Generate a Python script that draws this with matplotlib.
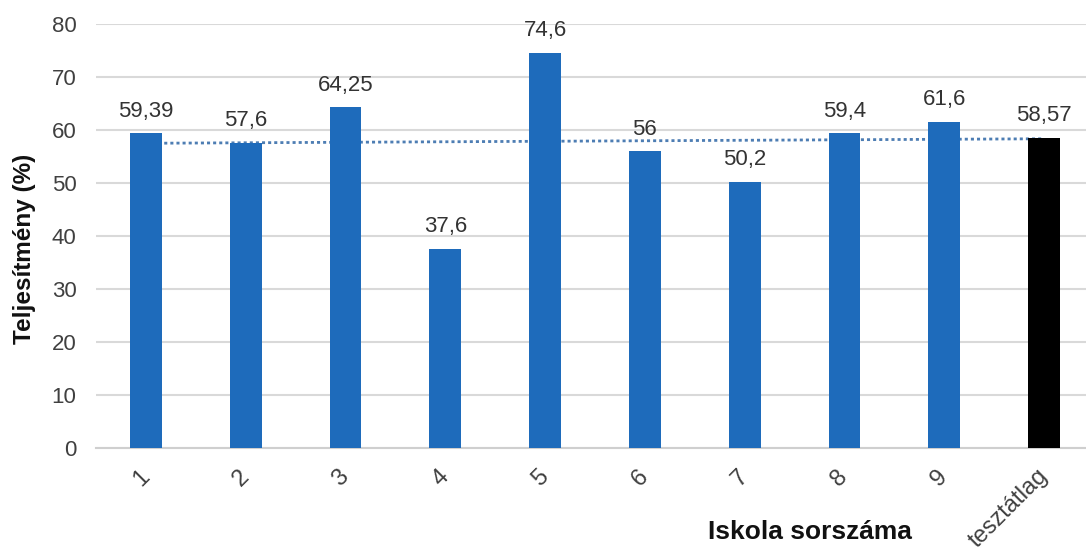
import numpy as np
import matplotlib
matplotlib.use("Agg")
import matplotlib.pyplot as plt

plt.rcParams['font.family'] = ['Liberation Sans', 'DejaVu Sans']

categories = ["1", "2", "3", "4", "5", "6", "7", "8", "9", "tesztátlag"]
values = [59.39, 57.6, 64.25, 37.6, 74.6, 56, 50.2, 59.4, 61.6, 58.57]
value_labels = ["59,39", "57,6", "64,25", "37,6", "74,6", "56", "50,2", "59,4", "61,6", "58,57"]
colors = ["#1e6bbb"] * 9 + ["#000000"]

W, H = 1086, 553
L, R, T, B = 96, 1094, 24, 448
fig = plt.figure(figsize=(W / 100, H / 100), dpi=100)
ax = fig.add_axes([L / W, 1 - B / H, (R - L) / W, (B - T) / H])

x = np.arange(len(categories))
ax.bar(x, values, width=0.32, color=colors, zorder=3)

for xi, v, lab in zip(x, values, value_labels):
    ax.text(xi, v + 2.2, lab, ha='center', va='bottom', fontsize=16, color='#333333', zorder=4)

# linear trendline of the series (behind the bars)
coef = np.polyfit(x, values, 1)
xl = np.array([0, len(categories) - 1])
ax.plot(xl, np.polyval(coef, xl), linestyle=(0, (1.1, 1.1)), color='#4d7db3', linewidth=2.0, zorder=2)

ax.set_xlim(-0.5, len(categories) - 0.5)
ax.set_ylim(0, 80)
ax.set_yticks(range(0, 81, 10))
ax.yaxis.grid(True, color='#d9d9d9', linewidth=1.5, zorder=0)
ax.set_axisbelow(True)
for s in ['top', 'right', 'left']:
    ax.spines[s].set_visible(False)
ax.spines['bottom'].set_color('#cfcfcf')
ax.spines['bottom'].set_linewidth(1.5)
ax.tick_params(axis='both', length=0, colors='#404040')
ax.tick_params(axis='y', labelsize=16, pad=14)
ax.tick_params(axis='x', labelsize=17, pad=18)
ax.set_xticks(x)
ax.set_xticklabels(categories, rotation=45, ha='right', va='center', rotation_mode='anchor')

ax.set_ylabel("Teljesítmény (%)", fontsize=17.5, fontweight='bold', color='#111111')
ax.yaxis.set_label_coords(-(L - 36) / (R - L), (B - 249) / (B - T))
ax.set_xlabel("Iskola sorszáma", fontsize=19, fontweight='bold', color='#111111')
ax.xaxis.set_label_coords((810 - L) / (R - L), -(532 - B) / (B - T))
ax.xaxis.label.set_va('center')

fig.savefig("out.png", dpi=100)
